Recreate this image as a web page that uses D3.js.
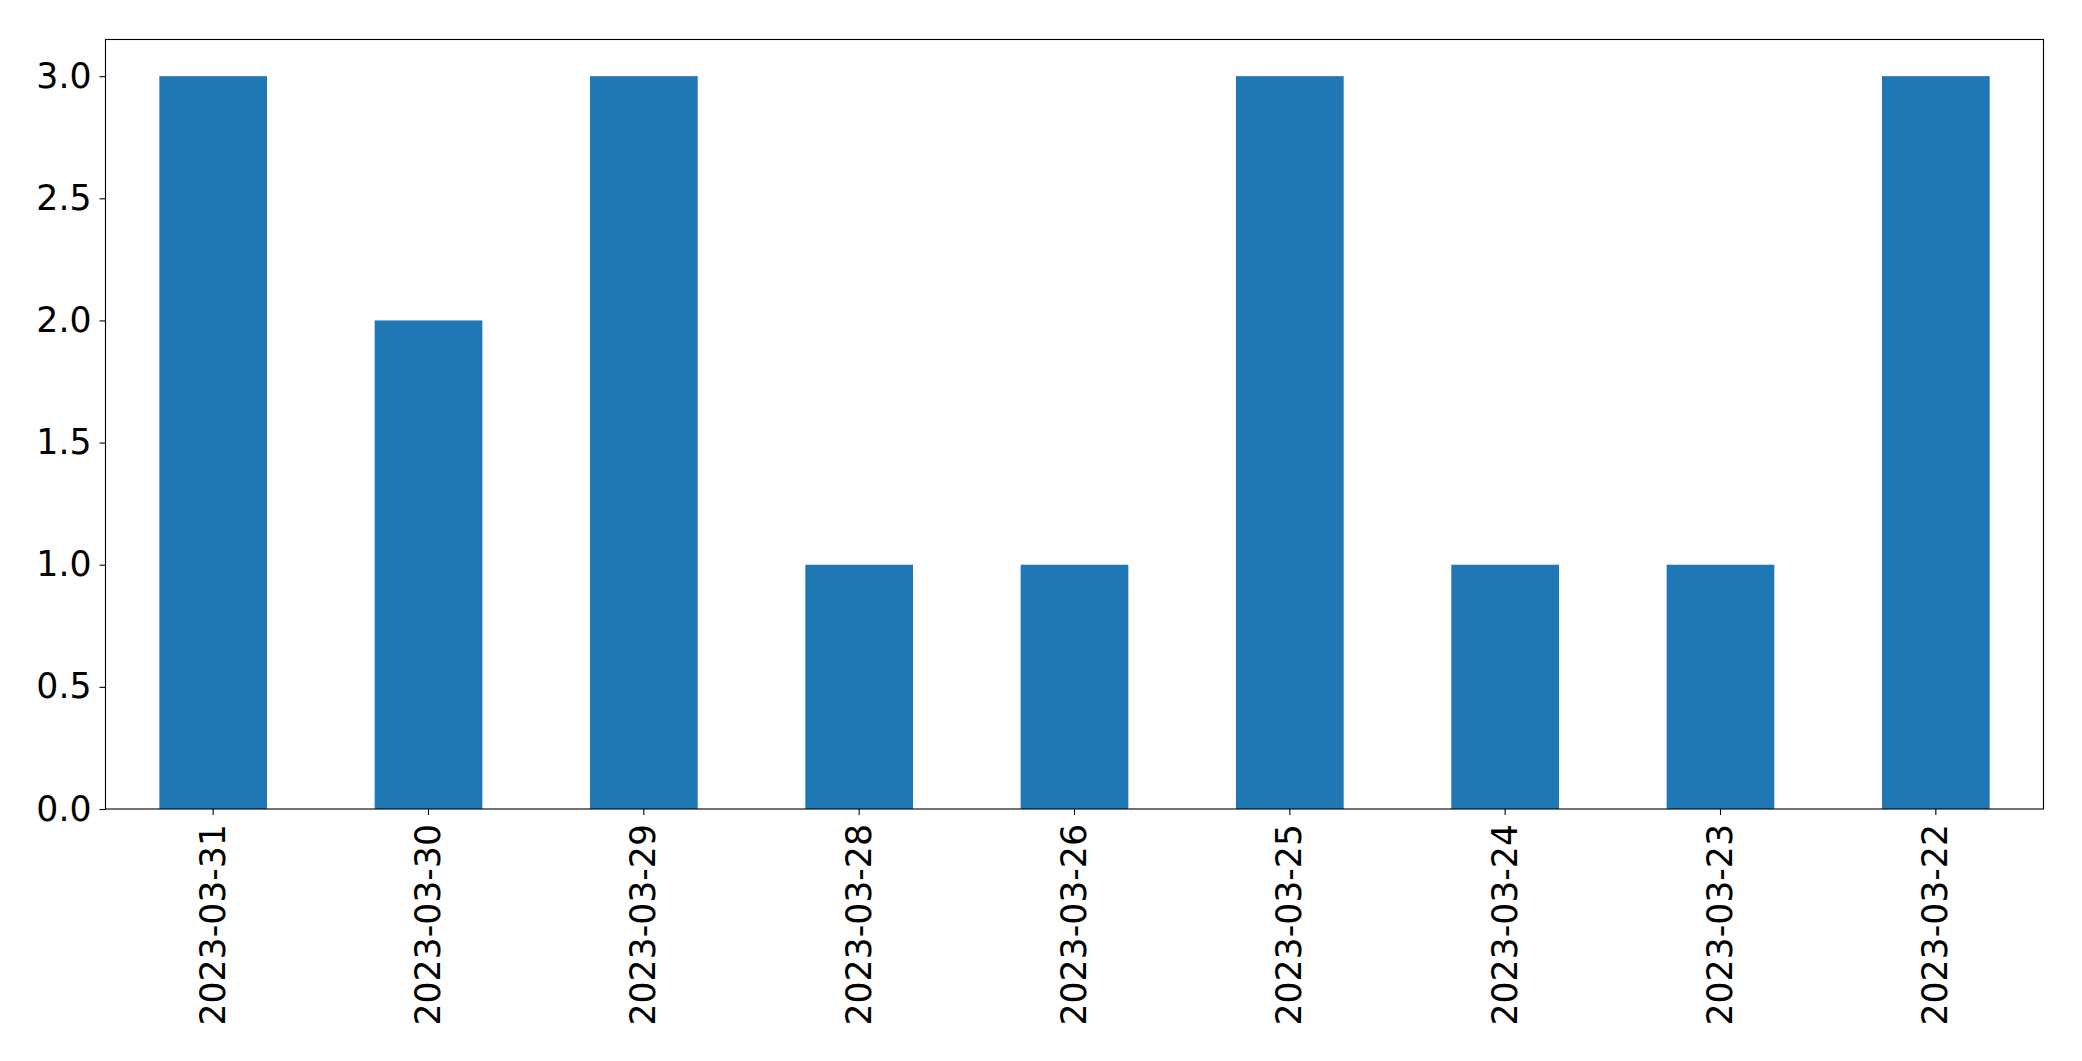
<!DOCTYPE html>
<html>
<head>
<meta charset="utf-8">
<script src="https://cdn.jsdelivr.net/npm/d3@7"></script>
<style>
  html, body { margin: 0; padding: 0; background: #fff; }
  svg { display: block; }
  text { font-family: "DejaVu Sans", sans-serif; }
</style>
</head>
<body>
<svg id="chart" width="2082" height="1061"></svg>
<script>
const categories = ["2023-03-31","2023-03-30","2023-03-29","2023-03-28","2023-03-26","2023-03-25","2023-03-24","2023-03-23","2023-03-22"];
const values = [3, 2, 3, 1, 1, 3, 1, 1, 3];
const yTicks = [0, 0.5, 1.0, 1.5, 2.0, 2.5, 3.0];

const W = 2082, H = 1061;
const margin = {left: 105.5, right: 2082 - 2043.5, top: 39.5, bottom: 1061 - 809};
const svg = d3.select("#chart");

const x = d3.scaleBand()
  .domain(categories)
  .range([margin.left, W - margin.right])
  .paddingInner(0.5)
  .paddingOuter(0.25);

const y = d3.scaleLinear()
  .domain([0, 3.15])
  .range([H - margin.bottom, margin.top]);

svg.append("g")
  .selectAll("rect")
  .data(values)
  .join("rect")
  .attr("x", (d, i) => x(categories[i]))
  .attr("y", d => y(d))
  .attr("width", x.bandwidth())
  .attr("height", d => y(0) - y(d))
  .attr("fill", "#1f77b4");

const fs = 34.7;

const yAxis = svg.append("g")
  .attr("transform", `translate(${margin.left},0)`)
  .call(d3.axisLeft(y).tickValues(yTicks).tickFormat(d3.format(".1f")).tickSize(6).tickPadding(8));
yAxis.select(".domain").remove();
yAxis.selectAll("text").attr("font-size", fs).attr("fill", "#000").attr("font-family", "DejaVu Sans, sans-serif");
yAxis.selectAll("line").attr("stroke", "#000").attr("stroke-width", 1.1);

const xAxis = svg.append("g")
  .attr("transform", `translate(0,${H - margin.bottom})`)
  .call(d3.axisBottom(x).tickSize(6).tickPadding(10));
xAxis.select(".domain").remove();
xAxis.selectAll("line").attr("stroke", "#000").attr("stroke-width", 1.1);
xAxis.selectAll("text")
  .attr("font-size", fs)
  .attr("fill", "#000")
  .attr("font-family", "DejaVu Sans, sans-serif")
  .attr("text-anchor", "end")
  .attr("transform", "rotate(-90)")
  .attr("x", -15)
  .attr("y", 0)
  .attr("dy", "0.33em");

// frame
svg.append("rect")
  .attr("x", margin.left)
  .attr("y", margin.top)
  .attr("width", W - margin.left - margin.right)
  .attr("height", H - margin.top - margin.bottom)
  .attr("fill", "none")
  .attr("stroke", "#000")
  .attr("stroke-width", 1.1);
</script>
</body>
</html>
